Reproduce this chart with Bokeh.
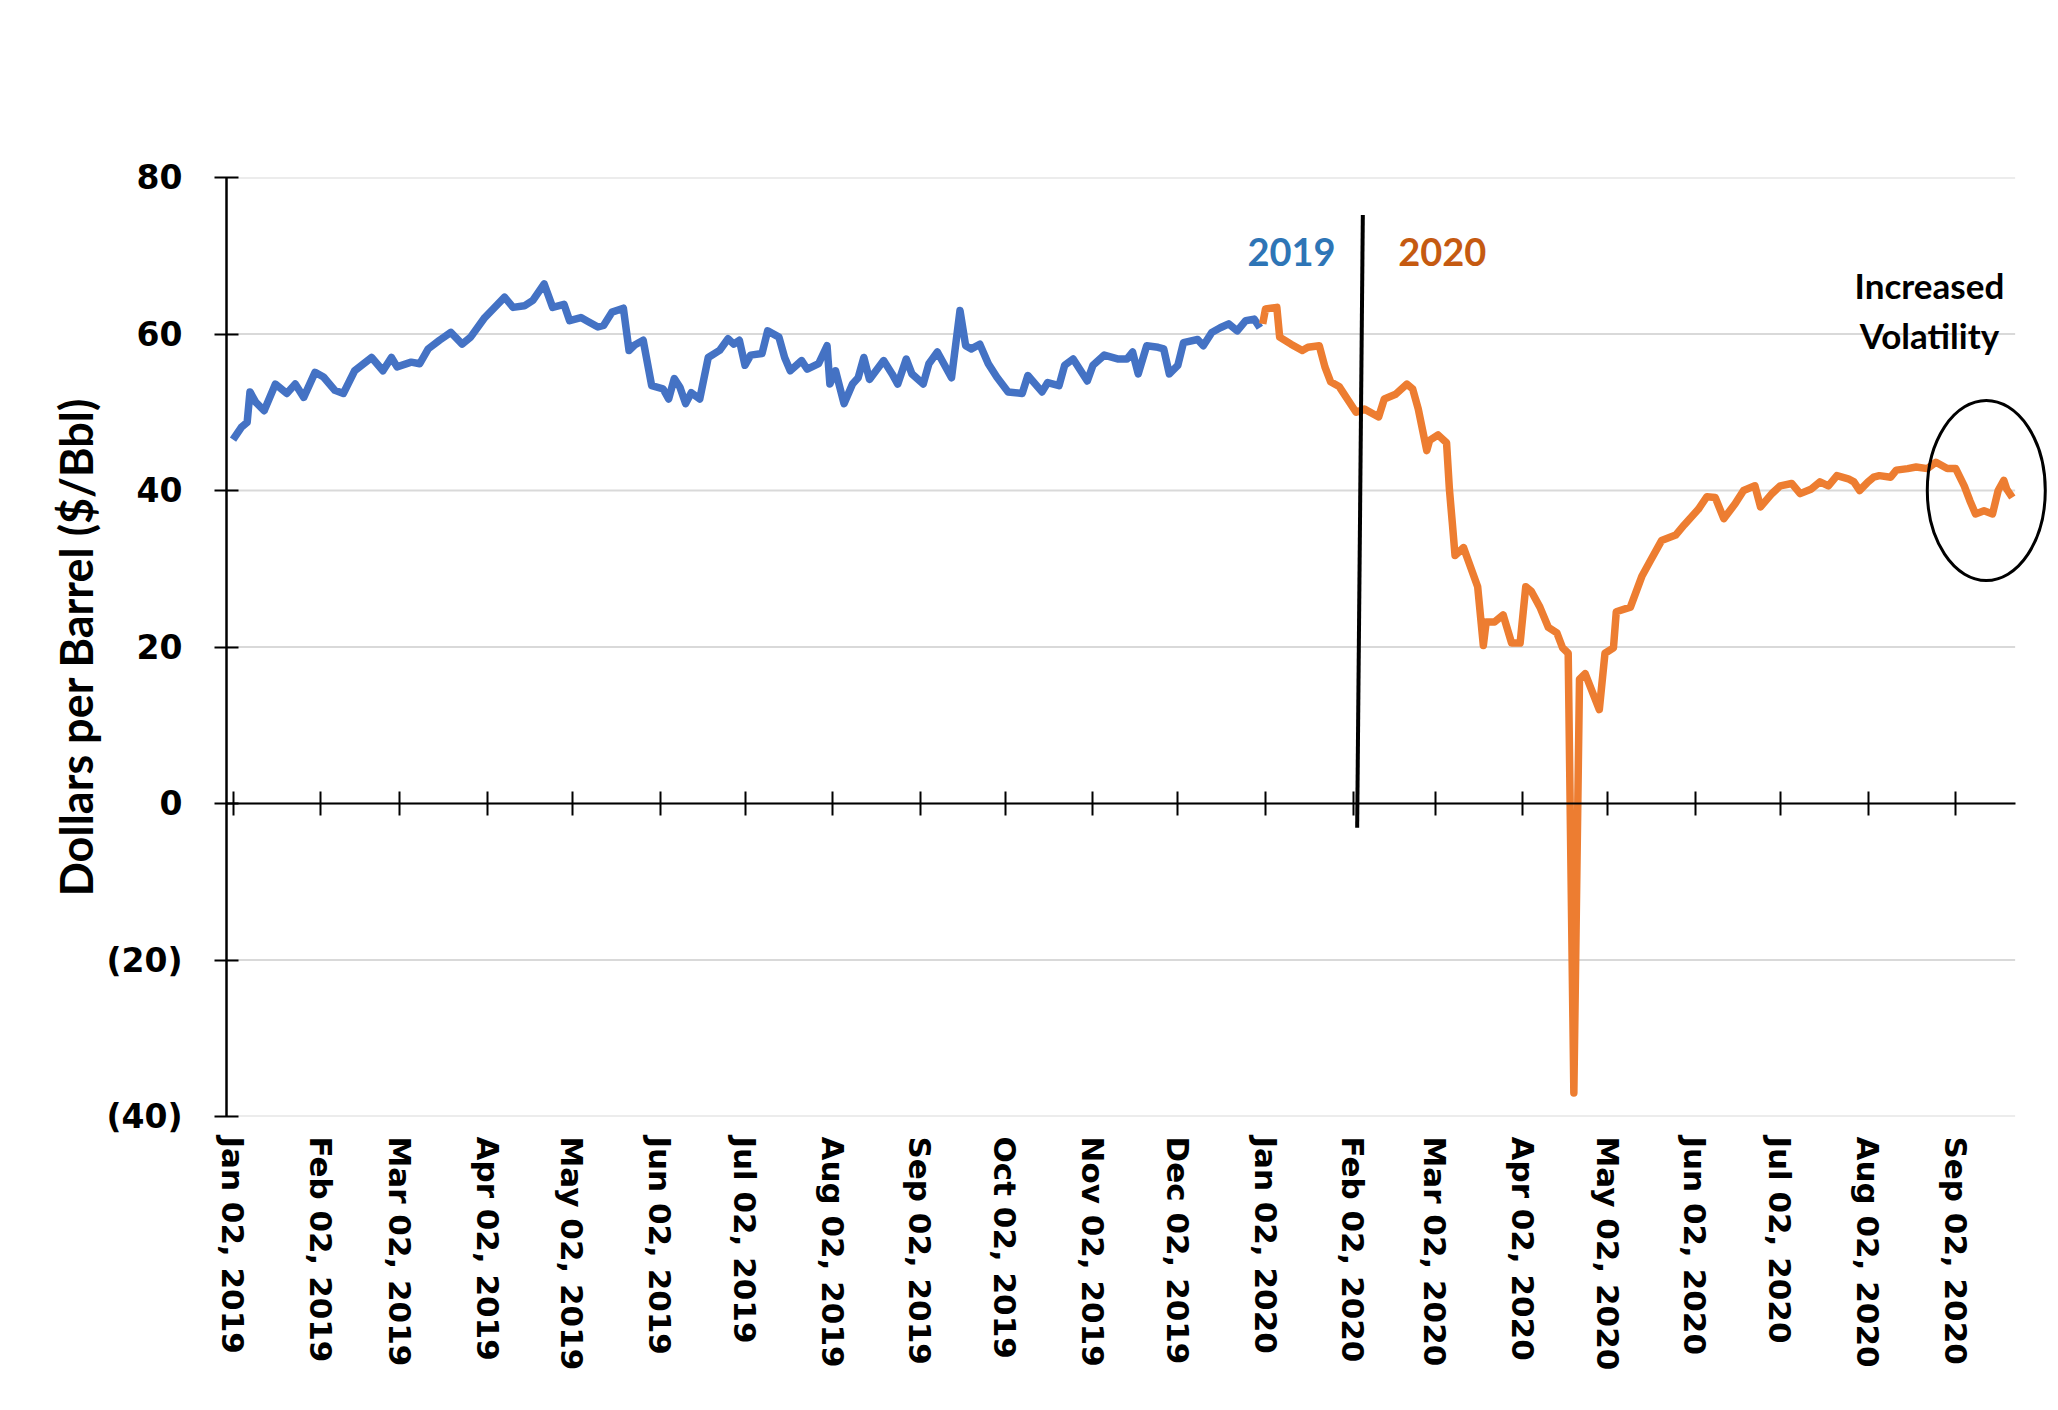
from datetime import datetime, timedelta
from bokeh.plotting import figure
from bokeh.models import Range1d, FixedTicker, DatetimeAxis, DatetimeTickFormatter
from bokeh.core.properties import value
from bokeh.embed import file_html
from bokeh.resources import INLINE

# ---------------- data ----------------
dates_2019 = [
    "2019-01-02", "2019-01-05", "2019-01-07", "2019-01-08", "2019-01-10", "2019-01-13",
    "2019-01-17", "2019-01-21", "2019-01-24", "2019-01-27", "2019-01-31", "2019-02-03",
    "2019-02-07", "2019-02-10", "2019-02-14", "2019-02-20", "2019-02-24", "2019-02-27",
    "2019-03-01", "2019-03-06", "2019-03-09", "2019-03-12", "2019-03-16", "2019-03-20",
    "2019-03-24", "2019-03-27", "2019-04-01", "2019-04-04", "2019-04-08", "2019-04-11",
    "2019-04-15", "2019-04-18", "2019-04-22", "2019-04-25", "2019-04-29", "2019-05-01",
    "2019-05-05", "2019-05-07", "2019-05-11", "2019-05-13", "2019-05-16", "2019-05-20",
    "2019-05-22", "2019-05-24", "2019-05-27", "2019-05-30", "2019-06-03", "2019-06-05",
    "2019-06-07", "2019-06-09", "2019-06-11", "2019-06-13", "2019-06-16", "2019-06-19",
    "2019-06-23", "2019-06-26", "2019-06-28", "2019-06-30", "2019-07-02", "2019-07-04",
    "2019-07-08", "2019-07-10", "2019-07-14", "2019-07-16", "2019-07-18", "2019-07-22",
    "2019-07-24", "2019-07-28", "2019-07-31", "2019-08-01", "2019-08-03", "2019-08-06",
    "2019-08-09", "2019-08-11", "2019-08-13", "2019-08-15", "2019-08-20", "2019-08-23",
    "2019-08-25", "2019-08-28", "2019-08-30", "2019-09-03", "2019-09-05", "2019-09-08",
    "2019-09-13", "2019-09-16", "2019-09-18", "2019-09-20", "2019-09-23", "2019-09-26",
    "2019-09-29", "2019-10-03", "2019-10-08", "2019-10-10", "2019-10-15", "2019-10-17",
    "2019-10-21", "2019-10-23", "2019-10-26", "2019-10-31", "2019-11-02", "2019-11-06",
    "2019-11-11", "2019-11-14", "2019-11-16", "2019-11-18", "2019-11-21", "2019-11-25",
    "2019-11-27", "2019-11-29", "2019-12-02", "2019-12-04", "2019-12-09", "2019-12-11",
    "2019-12-14", "2019-12-17", "2019-12-20", "2019-12-23", "2019-12-26", "2019-12-29",
    "2019-12-31",
]
price_2019 = [
    46.5, 48.1, 48.7, 52.6, 51.3, 50.2,
    53.6, 52.4, 53.6, 51.9, 55.1, 54.5,
    52.8, 52.4, 55.3, 57.0, 55.3, 57.0,
    55.8, 56.4, 56.2, 58.1, 59.2, 60.2,
    58.7, 59.6, 62.1, 63.2, 64.7, 63.4,
    63.6, 64.3, 66.4, 63.4, 63.8, 61.7,
    62.1, 61.7, 60.9, 61.1, 62.8, 63.3,
    57.9, 58.6, 59.2, 53.4, 53.0, 51.7,
    54.3, 53.2, 51.1, 52.5, 51.7, 57.0,
    57.9, 59.4, 58.7, 59.2, 56.0, 57.3,
    57.5, 60.4, 59.6, 57.0, 55.3, 56.6,
    55.5, 56.2, 58.5, 53.6, 55.3, 51.1,
    53.6, 54.4, 57.0, 54.2, 56.6, 54.9,
    53.6, 56.8, 54.9, 53.6, 56.2, 57.7,
    54.4, 63.0, 58.5, 58.1, 58.7, 56.2,
    54.5, 52.6, 52.4, 54.7, 52.6, 53.8,
    53.4, 56.0, 56.8, 54.0, 56.0, 57.3,
    56.8, 56.8, 57.7, 54.9, 58.5, 58.3,
    58.1, 54.9, 56.0, 58.9, 59.3, 58.5,
    60.2, 60.8, 61.3, 60.4, 61.7, 61.9,
    60.8,
]
dates_2020 = [
    "2020-01-01", "2020-01-02", "2020-01-06", "2020-01-07", "2020-01-11", "2020-01-15",
    "2020-01-17", "2020-01-21", "2020-01-23", "2020-01-25", "2020-01-28", "2020-02-03",
    "2020-02-06", "2020-02-11", "2020-02-13", "2020-02-17", "2020-02-21", "2020-02-23",
    "2020-02-25", "2020-02-28", "2020-02-29", "2020-03-03", "2020-03-06", "2020-03-07",
    "2020-03-08", "2020-03-09", "2020-03-12", "2020-03-14", "2020-03-17", "2020-03-19",
    "2020-03-20", "2020-03-23", "2020-03-26", "2020-03-29", "2020-04-01", "2020-04-03",
    "2020-04-05", "2020-04-08", "2020-04-11", "2020-04-14", "2020-04-16", "2020-04-18",
    "2020-04-20", "2020-04-22", "2020-04-24", "2020-04-29", "2020-05-01", "2020-05-04",
    "2020-05-05", "2020-05-10", "2020-05-14", "2020-05-17", "2020-05-21", "2020-05-26",
    "2020-05-29", "2020-06-03", "2020-06-06", "2020-06-09", "2020-06-12", "2020-06-16",
    "2020-06-19", "2020-06-23", "2020-06-25", "2020-06-29", "2020-07-02", "2020-07-06",
    "2020-07-09", "2020-07-13", "2020-07-16", "2020-07-19", "2020-07-22", "2020-07-26",
    "2020-07-28", "2020-07-30", "2020-08-02", "2020-08-04", "2020-08-06", "2020-08-10",
    "2020-08-12", "2020-08-16", "2020-08-19", "2020-08-23", "2020-08-26", "2020-08-30",
    "2020-09-02", "2020-09-05", "2020-09-07", "2020-09-09", "2020-09-12", "2020-09-15",
    "2020-09-17", "2020-09-19", "2020-09-20", "2020-09-22",
]
price_2020 = [
    61.3, 63.2, 63.4, 59.6, 58.7, 57.9,
    58.3, 58.5, 55.8, 53.9, 53.3, 50.0,
    50.4, 49.4, 51.7, 52.3, 53.6, 53.0,
    50.4, 45.1, 46.4, 47.1, 46.1, 40.2,
    36.0, 31.7, 32.7, 30.7, 27.7, 20.2,
    23.2, 23.2, 24.1, 20.5, 20.5, 27.7,
    27.1, 25.1, 22.5, 21.8, 19.9, 19.2,
    -37.0, 15.9, 16.6, 12.0, 19.2, 19.9,
    24.5, 25.1, 29.0, 31.0, 33.6, 34.3,
    35.6, 37.6, 39.2, 39.1, 36.4, 38.3,
    40.0, 40.6, 37.9, 39.6, 40.6, 40.9,
    39.6, 40.2, 41.1, 40.6, 41.9, 41.5,
    41.1, 40.0, 41.1, 41.7, 41.9, 41.7,
    42.6, 42.8, 43.0, 42.8, 43.6, 42.8,
    42.8, 40.6, 38.7, 37.0, 37.4, 37.0,
    40.0, 41.3, 40.2, 39.1,
]
tick_dates = [
    "2019-01-02", "2019-02-02", "2019-03-02", "2019-04-02", "2019-05-02", "2019-06-02",
    "2019-07-02", "2019-08-02", "2019-09-02", "2019-10-02", "2019-11-02", "2019-12-02",
    "2020-01-02", "2020-02-02", "2020-03-02", "2020-04-02", "2020-05-02", "2020-06-02",
    "2020-07-02", "2020-08-02", "2020-09-02",
]
y_ticks = [-40, -20, 0, 20, 40, 60, 80]
y_tick_labels = ["(40)", "(20)", "0", "20", "40", "60", "80"]
year_labels = ["2019", "2020"]
note_lines = ["Increased", "Volatility"]

# ---------------- helpers ----------------
EPOCH = datetime(1970, 1, 1)


def to_dt(s):
    return datetime.strptime(s, "%Y-%m-%d")


def to_ms(dt):
    return (dt - EPOCH).total_seconds() * 1000.0


x_2019 = [to_dt(s) for s in dates_2019]
x_2020 = [to_dt(s) for s in dates_2020]
tick_ms = [to_ms(to_dt(s)) for s in tick_dates]

base = to_dt("2019-01-02")
x_start = base - timedelta(days=2.3)
x_end = base + timedelta(days=642.5)
grid_end = base + timedelta(days=630)

BLUE = "#4472C4"
ORANGE = "#ED7D31"
GRID = "#D9D9D9"

p = figure(
    width=2050, height=1400,
    x_axis_type="datetime",
    x_range=Range1d(x_start, x_end),
    y_range=Range1d(-40, 80),
    output_backend="svg",
    toolbar_location=None,
    min_border_left=226, min_border_top=177,
    min_border_right=0, min_border_bottom=284,
)
p.outline_line_color = None
p.xgrid.grid_line_color = None
p.ygrid.grid_line_color = None
p.background_fill_color = "white"
p.border_fill_color = "white"

# horizontal gridlines (end at last date of the chart area)
p.segment(x0=[x_start] * len(y_ticks), x1=[grid_end] * len(y_ticks),
          y0=y_ticks, y1=y_ticks, line_color=GRID, line_width=2)

# bottom axis: labels only
xa = p.xaxis[0]
xa.ticker = FixedTicker(ticks=tick_ms)
fmt = "%b %d, %Y"
xa.formatter = DatetimeTickFormatter(days=fmt, months=fmt, years=fmt, hours=fmt,
                                     hourmin=fmt, minutes=fmt)
xa.major_label_orientation = "vertical"
xa.major_label_text_font = "DejaVu Sans"
xa.major_label_text_font_style = "bold"
xa.major_label_text_font_size = "31px"
xa.major_label_text_color = "black"
xa.major_label_standoff = 14
xa.axis_line_color = None
xa.major_tick_line_color = None
xa.minor_tick_line_color = None

# axis crossing at zero
zero_axis = DatetimeAxis(
    fixed_location=0,
    ticker=FixedTicker(ticks=tick_ms),
    bounds=(x_start, grid_end),
    major_label_text_color=None,
    axis_line_color="black", axis_line_width=2,
    major_tick_in=12, major_tick_out=12,
    major_tick_line_color="black", major_tick_line_width=2,
    minor_tick_line_color=None,
)
p.add_layout(zero_axis, "above")

# y axis
ya = p.yaxis[0]
ya.ticker = FixedTicker(ticks=y_ticks)
ya.major_label_overrides = {t: l for t, l in zip(y_ticks, y_tick_labels)}
ya.major_label_text_font = "DejaVu Sans"
ya.major_label_text_font_style = "bold"
ya.major_label_text_font_size = "33px"
ya.major_label_text_color = "black"
ya.major_label_standoff = 32
ya.axis_line_color = "black"
ya.axis_line_width = 2.5
ya.major_tick_in = 12
ya.major_tick_out = 12
ya.major_tick_line_width = 2
ya.minor_tick_line_color = None
ya.axis_label = "Dollars per Barrel ($/Bbl)"
ya.axis_label_text_font = "Lato"
ya.axis_label_text_font_style = "bold"
ya.axis_label_text_font_size = "45px"
ya.axis_label_text_color = "black"
ya.axis_label_standoff = 0

# price lines
p.line(x_2019, price_2019, line_color=BLUE, line_width=7.5, line_join="round")
p.line(x_2020, price_2020, line_color=ORANGE, line_width=7.5, line_join="round")

# divider between years
p.segment(x0=[base + timedelta(days=397.4)], y0=[-3.1],
          x1=[base + timedelta(days=399.4)], y1=[75.2],
          line_color="black", line_width=4)

# year labels
p.text(x=[base + timedelta(days=374.2), base + timedelta(days=427.5)], y=[70.5, 70.5],
       text=year_labels, text_color=["#2E75B6", "#C55A11"],
       text_font=value("Lato"), text_font_style="bold", text_font_size="38px",
       text_align="center", text_baseline="alphabetic")

# volatility note
p.text(x=[base + timedelta(days=599.7)] * 2, y=[66.3, 59.9], text=note_lines,
       text_color="black", text_font=value("Lato"), text_font_style="bold",
       text_font_size="35px", text_align="center", text_baseline="alphabetic")

p.ellipse(x=[base + timedelta(days=619.8)], y=[40.0], width=118, height=180,
          width_units="screen", height_units="screen",
          fill_color=None, line_color="black", line_width=3)

open("out.html", "w").write(file_html(p, INLINE))
